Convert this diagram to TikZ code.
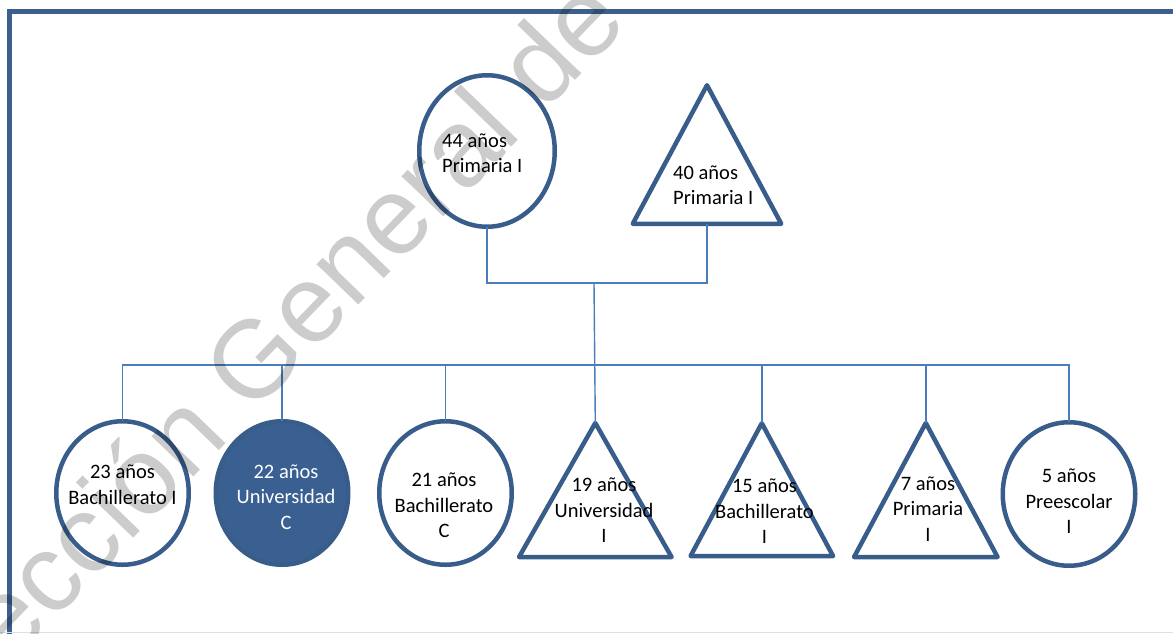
\documentclass[tikz,border=0pt]{standalone}
\usepackage{fontspec}
\setmainfont{Carlito}
\newfontfamily\wmfont{Liberation Sans}
\usetikzlibrary{shapes.geometric}
\definecolor{kline}{HTML}{385D8A}
\definecolor{kfill}{HTML}{3A6092}
\definecolor{klink}{HTML}{4A7EBB}
\definecolor{kframe}{HTML}{3C5F8E}
\definecolor{kedge}{HTML}{DCDDEF}
\tikzset{
  shp/.style={draw=kline, line width=4.5pt, line join=round, inner sep=0pt, outer sep=0pt},
  kcirc/.style={shp, ellipse, minimum width=132.5pt, minimum height=143.5pt},
  kcircfull/.style={kcirc, fill=kfill},
  ktri/.style={shp, isosceles triangle, isosceles triangle stretches, shape border rotate=90,
    minimum width=143.5pt, minimum height=134pt, anchor=apex},
  lbl/.style={align=center, inner sep=0pt, font=\fontsize{20.5}{25.5}\selectfont},
  link/.style={draw=klink, line width=1.4pt},
  frame/.style={draw=kframe, line width=4.5pt},
  wmark/.style={inner sep=0pt, text=black, text opacity=0.2, font=\wmfont\fontsize{110}{130}\selectfont},
}
\begin{document}
\begin{tikzpicture}[x=1pt,y=-1pt]
    \useasboundingbox (0,0) rectangle (1173,633);
    \clip (0,0) rectangle (1173,633);
    % frame
    \draw[frame] (9.25,650) -- (9.25,11.25) -- (1190,11.25);
    \draw[kedge, line width=1pt] (0,632) -- (1173,632);
    % parents
    \node[kcirc, minimum width=135.5pt, minimum height=151.5pt] (p44) at (487.00,151.00) {};
    \node[ktri, minimum width=148.5pt, minimum height=138.5pt] (p40) at (707.00,85.25) {};
    % children
    \node[kcirc] (a23) at (122.50,493.00) {};
    \node[kcircfull] (a22) at (282.00,493.00) {};
    \node[kcirc] (a21) at (445.50,493.00) {};
    \node[ktri, minimum width=152.5pt] (h19) at (595.30,423.00) {};
    \node[ktri, minimum width=142.5pt, minimum height=132.75pt] (h15) at (761.80,423.25) {};
    \node[ktri] (h7) at (925.80,423.00) {};
    \node[kcirc] (a5) at (1069.00,494.00) {};
    % labels
    \node[lbl, align=left, anchor=west] (l44) at (442.00,153.00) {44 años\\Primaria I};
    \node[lbl, align=left, anchor=west] (l40) at (673.00,185.00) {40 años\\Primaria I};
    \node[lbl] (l23) at (122.50,484.50) {23 años\\Bachillerato I};
    \node[lbl, text=white] (l22) at (286.00,497.00) {22 años\\Universidad\\C};
    \node[lbl] (l21) at (444.00,505.50) {21 años\\Bachillerato\\C};
    \node[lbl] (l19) at (604.00,510.50) {19 años\\Universidad\\I};
    \node[lbl] (l15) at (764.50,511.50) {15 años\\Bachillerato\\I};
    \node[lbl] (l7) at (928.00,509.00) {7 años\\Primaria\\I};
    \node[lbl] (l5) at (1069.00,501.50) {5 años\\Preescolar\\I};
    % connectors
    \coordinate (jtop) at (594.00,283.00);
    \coordinate (jbus) at (594.00,365.00);
    \draw[link] (p44.south) |- (p40.south |- jtop) -- (p40.south);
    \draw[link] (jtop) -- (h19.apex);
    \draw[link] (a23.north) |- (a5.north |- jbus) -- (a5.north);
    \foreach \k in {a22,a21,h15,h7}
      \draw[link] (\k.north) -- (\k.north |- jbus);
    % watermark
    \node[wmark, rotate=46, anchor=base west] (wm) at (-88.00,768.00) {Dirección General de Bibliotecas};
\end{tikzpicture}
\end{document}
